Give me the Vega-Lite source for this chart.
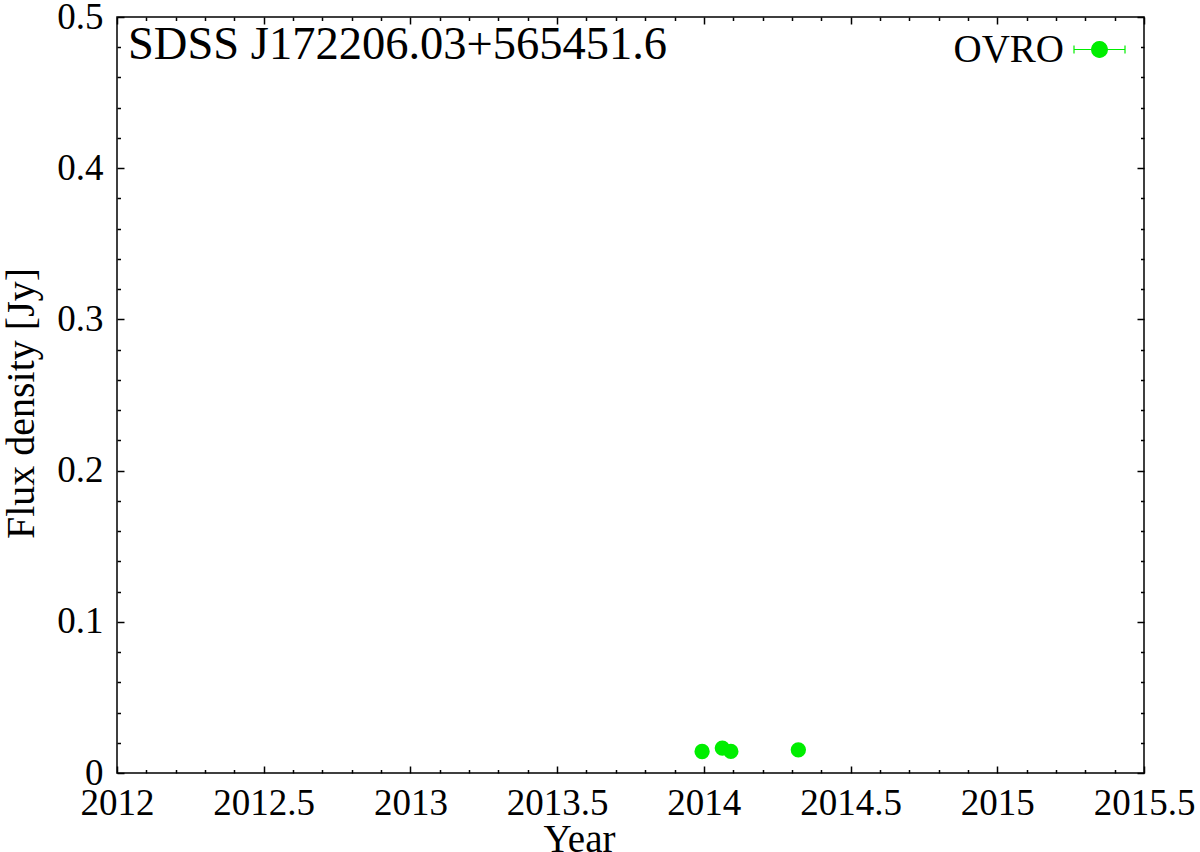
{
  "$schema": "https://vega.github.io/schema/vega-lite/v6.json",
  "width": 1027,
  "height": 756,
  "autosize": "none",
  "padding": {"left": 117, "top": 17, "right": 56, "bottom": 79},
  "background": "white",
  "config": {
    "view": {"stroke": "black", "strokeWidth": 1.5},
    "axis": {"domain": false, "grid": false, "tickColor": "black", "tickWidth": 1.5, "labelFont": "Liberation Serif", "labelColor": "black", "titleFont": "Liberation Serif", "titleColor": "black", "titleFontWeight": "normal"},
    "title": {"font": "Liberation Serif", "fontSize": 46.5, "fontWeight": "normal", "color": "black", "anchor": "start"}
  },
  "title": {"text": "SDSS J172206.03+565451.6", "dy": 74, "dx": 127},
  "data": {"values": [
    {"year": 2013.994, "flux": 0.0142, "series": "OVRO"},
    {"year": 2014.063, "flux": 0.0165, "series": "OVRO"},
    {"year": 2014.092, "flux": 0.0143, "series": "OVRO"},
    {"year": 2014.322, "flux": 0.0153, "series": "OVRO"}
  ]},
  "resolve": {"axis": {"x": "independent", "y": "independent"}},
  "layer": [
    {
      "mark": {"type": "point", "filled": true, "shape": "circle", "size": 235, "opacity": 1},
      "encoding": {
        "x": {"field": "year", "type": "quantitative", "scale": {"domain": [2012, 2015.5], "nice": false, "zero": false},
          "axis": {"orient": "bottom", "values": [2012, 2012.5, 2013, 2013.5, 2014, 2014.5, 2015, 2015.5], "labelExpr": "'' + datum.value", "tickSize": -7, "labelPadding": 19, "labelFontSize": 37, "labelFlush": false, "labelOverlap": false, "title": "Year", "titleFontSize": 39, "titleBaseline": "alphabetic", "titleX": 462, "titleY": 78}},
        "y": {"field": "flux", "type": "quantitative", "scale": {"domain": [0, 0.5], "nice": false, "zero": true},
          "axis": {"orient": "left", "values": [0, 0.1, 0.2, 0.3, 0.4, 0.5], "labelExpr": "'' + datum.value", "tickSize": -7, "labelPadding": 21, "labelFontSize": 37, "labelFlush": false, "labelOverlap": false, "title": "Flux density [Jy]", "titleFontSize": 40, "titleBaseline": "alphabetic", "titleAngle": -90, "titleX": -84, "titleY": 386}},
        "color": {"field": "series", "type": "nominal", "scale": {"domain": ["OVRO"], "range": ["#00ee00"]},
          "legend": {"title": null, "orient": "none", "legendX": 956, "legendY": 6, "padding": 0,
            "symbolType": "M-1,0L1,0M-1,-0.16L-1,0.16M1,-0.16L1,0.16M0.31,0A0.31,0.31 0 1,1 -0.31,0A0.31,0.31 0 1,1 0.31,0Z",
            "symbolSize": 2601, "symbolStrokeColor": "#00ee00", "symbolStrokeWidth": 1.2, "symbolFillColor": "#00ee00",
            "labelFont": "Liberation Serif", "labelFontSize": 39, "labelColor": "black", "labelAlign": "right", "labelOffset": -62, "labelLimit": 0}}
      }
    },
    {
      "mark": {"type": "point", "opacity": 0},
      "encoding": {
        "x": {"field": "year", "type": "quantitative",
          "axis": {"orient": "bottom", "values": [2012.1, 2012.2, 2012.3, 2012.4, 2012.6, 2012.7, 2012.8, 2012.9, 2013.1, 2013.2, 2013.3, 2013.4, 2013.6, 2013.7, 2013.8, 2013.9, 2014.1, 2014.2, 2014.3, 2014.4, 2014.6, 2014.7, 2014.8, 2014.9, 2015.1, 2015.2, 2015.3, 2015.4], "labels": false, "tickSize": -3.5, "title": null}},
        "y": {"field": "flux", "type": "quantitative",
          "axis": {"orient": "left", "values": [0.02, 0.04, 0.06, 0.08, 0.12, 0.14, 0.16, 0.18, 0.22, 0.24, 0.26, 0.28, 0.32, 0.34, 0.36, 0.38, 0.42, 0.44, 0.46, 0.48], "labels": false, "tickSize": -3.5, "title": null}}
      }
    },
    {
      "mark": {"type": "point", "opacity": 0},
      "encoding": {
        "x": {"field": "year", "type": "quantitative",
          "axis": {"orient": "top", "values": [2012, 2012.5, 2013, 2013.5, 2014, 2014.5, 2015, 2015.5], "labels": false, "tickSize": -7, "title": null}},
        "y": {"field": "flux", "type": "quantitative",
          "axis": {"orient": "right", "values": [0, 0.1, 0.2, 0.3, 0.4, 0.5], "labels": false, "tickSize": -7, "title": null}}
      }
    },
    {
      "mark": {"type": "point", "opacity": 0},
      "encoding": {
        "x": {"field": "year", "type": "quantitative",
          "axis": {"orient": "top", "values": [2012.1, 2012.2, 2012.3, 2012.4, 2012.6, 2012.7, 2012.8, 2012.9, 2013.1, 2013.2, 2013.3, 2013.4, 2013.6, 2013.7, 2013.8, 2013.9, 2014.1, 2014.2, 2014.3, 2014.4, 2014.6, 2014.7, 2014.8, 2014.9, 2015.1, 2015.2, 2015.3, 2015.4], "labels": false, "tickSize": -3.5, "title": null}},
        "y": {"field": "flux", "type": "quantitative",
          "axis": {"orient": "right", "values": [0.02, 0.04, 0.06, 0.08, 0.12, 0.14, 0.16, 0.18, 0.22, 0.24, 0.26, 0.28, 0.32, 0.34, 0.36, 0.38, 0.42, 0.44, 0.46, 0.48], "labels": false, "tickSize": -3.5, "title": null}}
      }
    }
  ]
}
